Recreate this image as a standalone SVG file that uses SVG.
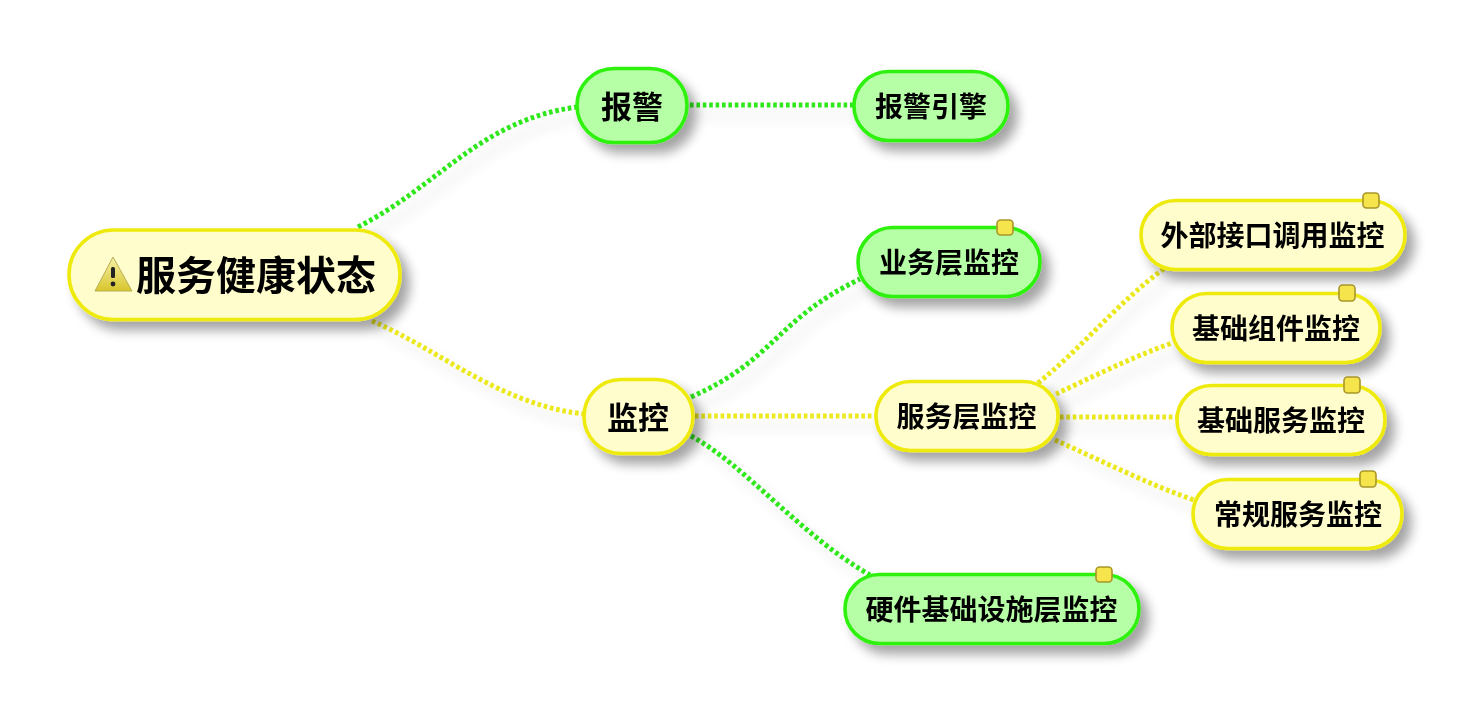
<svg xmlns="http://www.w3.org/2000/svg" width="1474" height="712" viewBox="0 0 1474 712">
<style>
text{font-family:"Noto Sans CJK SC","Liberation Sans",sans-serif;font-weight:700;fill:#000;text-anchor:middle;dominant-baseline:central}
.box{stroke-width:3.6}
.y{fill:#fffdcb;stroke:#eeea0c}
.g{fill:#b6ffa6;stroke:#2df20e}
.c{fill:none;stroke-width:5;stroke-dasharray:3.6 2.8}
.cy{stroke:#ebe81c}
.cg{stroke:#2ee81a}
.n{fill:#f6e44c;stroke:#a8962a;stroke-width:1.6}
</style>
<defs>
<filter id="s" x="-20%" y="-40%" width="150%" height="200%"><feGaussianBlur in="SourceAlpha" stdDeviation="6"/><feOffset dx="8" dy="9"/><feComponentTransfer><feFuncA type="linear" slope="0.36"/></feComponentTransfer><feMerge><feMergeNode/><feMergeNode in="SourceGraphic"/></feMerge></filter>
<filter id="ls" x="-20%" y="-40%" width="140%" height="180%"><feGaussianBlur in="SourceAlpha" stdDeviation="7"/><feOffset dx="8" dy="10"/><feComponentTransfer><feFuncA type="linear" slope="0.16"/></feComponentTransfer><feMerge><feMergeNode/><feMergeNode in="SourceGraphic"/></feMerge></filter>
<linearGradient id="w" x1="0" y1="0" x2="0" y2="1"><stop offset="0" stop-color="#f6f0a8"/><stop offset="1" stop-color="#d8c62c"/></linearGradient>
</defs>
<g id="connectors" filter="url(#ls)">
<path class="c cg" d="M358 227C440 185 480 120 577 107"/>
<path class="c cy" d="M372 321C440 350 500 405 584 414"/>
<path class="c cg" d="M690 105H854"/>
<path class="c cg" d="M691 397C775 360 775 320 860 279"/>
<path class="c cy" d="M695 416H876"/>
<path class="c cg" d="M691 436C745 465 800 535 870 575"/>
<path class="c cy" d="M1038 383C1080 350 1120 300 1165 268"/>
<path class="c cy" d="M1056 394C1090 378 1130 358 1172 343"/>
<path class="c cy" d="M1060 417H1177"/>
<path class="c cy" d="M1055 440C1100 460 1150 485 1194 500"/>
</g>
<g id="root" filter="url(#s)"><rect class="box y" x="69" y="230" width="331" height="89.500" rx="44.700"/>
<path d="M113 257L132 291H95Z" fill="url(#w)" stroke="#b9ad55" stroke-width="1"/><rect x="111" y="267" width="4" height="11" rx="1.500" fill="#222"/><circle cx="113" cy="284" r="2.400" fill="#222"/>
<text x="256" y="273" font-size="40">服务健康状态</text></g>
<g id="n-baojing" filter="url(#s)"><rect class="box g" x="577" y="68.500" width="110" height="74" rx="37"/><text x="632" y="104" font-size="31">报警</text></g>
<g id="n-yinqing" filter="url(#s)"><rect class="box g" x="854" y="71.500" width="154" height="69" rx="34.500"/><text x="931" y="105" font-size="28">报警引擎</text></g>
<g id="n-yewu" filter="url(#s)"><rect class="box g" x="858" y="227.500" width="182" height="69" rx="34.500"/><text x="949" y="261" font-size="28">业务层监控</text></g>
<rect id="note-yewu" class="n" x="997" y="220" width="16" height="15" rx="3.500"/>
<g id="n-jiankong" filter="url(#s)"><rect class="box y" x="584" y="379.500" width="109" height="74" rx="37"/><text x="638" y="415" font-size="31">监控</text></g>
<g id="n-fuwu" filter="url(#s)"><rect class="box y" x="876" y="381.500" width="182" height="69" rx="34.500"/><text x="966.500" y="415" font-size="28">服务层监控</text></g>
<g id="n-waibu" filter="url(#s)"><rect class="box y" x="1141" y="200.500" width="264" height="69" rx="34.500"/><text x="1272.500" y="234" font-size="28">外部接口调用监控</text></g>
<rect id="note-waibu" class="n" x="1363" y="193" width="16" height="15" rx="3.500"/>
<g id="n-zujian" filter="url(#s)"><rect class="box y" x="1172" y="293.500" width="208" height="69" rx="34.500"/><text x="1276" y="327" font-size="28">基础组件监控</text></g>
<rect id="note-zujian" class="n" x="1339" y="285" width="16" height="16" rx="3.500"/>
<g id="n-jcfw" filter="url(#s)"><rect class="box y" x="1177" y="385.500" width="208" height="69" rx="34.500"/><text x="1281" y="419" font-size="28">基础服务监控</text></g>
<rect id="note-jcfw" class="n" x="1344" y="377" width="16" height="16" rx="3.500"/>
<g id="n-changgui" filter="url(#s)"><rect class="box y" x="1193" y="479.500" width="209" height="69" rx="34.500"/><text x="1298" y="513" font-size="28">常规服务监控</text></g>
<rect id="note-changgui" class="n" x="1360" y="471" width="16" height="16" rx="3.500"/>
<g id="n-yingjian" filter="url(#s)"><rect class="box g" x="845" y="574.500" width="294" height="69" rx="34.500"/><text x="991.500" y="608" font-size="28">硬件基础设施层监控</text></g>
<rect id="note-yingjian" class="n" x="1096" y="567" width="16" height="15" rx="3.500"/>
</svg>
